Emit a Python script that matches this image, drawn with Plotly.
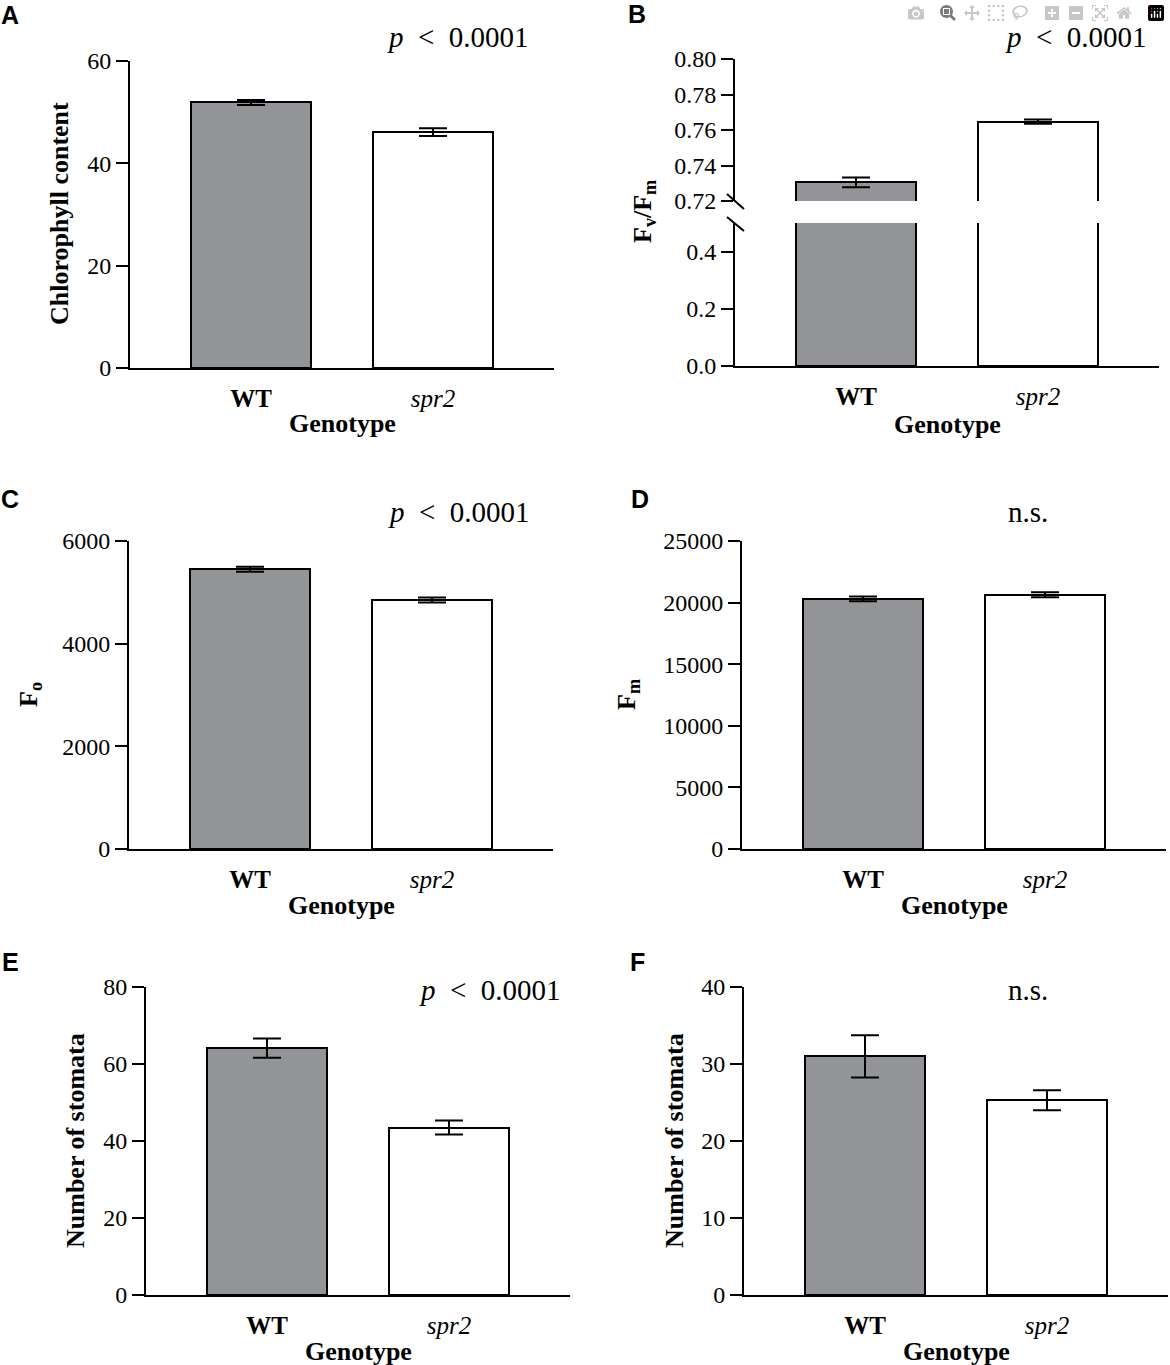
import plotly.graph_objects as go

# --- data ---
categories = ["WT", "spr2"]
tick_text = ["<b>WT</b>", "<i>spr2</i>"]

chl_mean = [51.9, 46.1]
chl_sem = [0.5, 0.75]

fvfm_mean = [0.7305, 0.7647]
fvfm_sem = [0.0027, 0.0012]

f0_mean = [5450, 4850]
f0_sem = [50, 50]

fm_mean = [20300, 20640]
fm_sem = [200, 200]

stom_e_mean = [64.1, 43.5]
stom_e_sem = [2.5, 1.8]

stom_f_mean = [31.0, 25.3]
stom_f_sem = [2.75, 1.3]

W, H = 1170, 1365
GRAY = "#929497"
SERIF = "Liberation Serif"
SANS = "Liberation Sans"
XLEN = 424


def px(x):
    return x / W


def py(y):
    return 1 - y / H


fig = go.Figure()
annotations = []
shapes = []


def bar_trace(means, sems, n, errors=True):
    sfx = "" if n == 1 else str(n)
    return go.Bar(
        x=categories, y=means, width=0.66,
        marker=dict(color=[GRAY, "white"], line=dict(color="black", width=2)),
        error_y=dict(type="data", array=sems, visible=errors, color="black",
                     thickness=2, width=14),
        xaxis="x" + sfx, yaxis="y" + sfx, hoverinfo="y",
    )


def x_axis(left, show=True, anchor="y"):
    return dict(
        domain=[px(left), px(left + XLEN)], range=[-0.665, 1.665],
        anchor=anchor, visible=show, showline=True, linecolor="black",
        linewidth=2, ticks="", tickvals=categories, ticktext=tick_text,
        ticklabelstandoff=7, showgrid=False, zeroline=False, automargin=False,
        tickfont=dict(family=SERIF, size=25, color="black"),
    )


def y_axis(top, bottom, rng, tickvals, anchor, fmt="d"):
    return dict(
        domain=[py(bottom), py(top)], range=rng, anchor=anchor,
        showline=True, linecolor="black", linewidth=2, ticks="outside",
        ticklen=12, tickwidth=2, tickcolor="black", tickvals=tickvals,
        tickformat=fmt, showgrid=False, zeroline=False, automargin=False,
        tickfont=dict(family=SERIF, size=24, color="black"),
    )


def text(x, y, s, size, family=SERIF, angle=0):
    annotations.append(dict(
        x=px(x), y=py(y), xref="paper", yref="paper", text=s, showarrow=False,
        textangle=angle, xanchor="center", yanchor="middle",
        font=dict(family=family, size=size, color="black"),
    ))


P_TXT = "<i>p</i>\u2002&lt;\u20020.0001"

# A: chlorophyll
fig.add_trace(bar_trace(chl_mean, chl_sem, 1))
fig.layout.xaxis = x_axis(130, anchor="y")
fig.layout.yaxis = y_axis(61, 368, [0, 60], [0, 20, 40, 60], "x")
text(10, 15, "<b>A</b>", 25, SANS)
text(458, 37, P_TXT, 29)
text(59, 214, "<b>Chlorophyll content</b>", 26, angle=-90)
text(130 + XLEN / 2, 423, "<b>Genotype</b>", 26)

# B: Fv/Fm with broken axis (lower x2/y2, upper x3/y3)
fig.add_trace(bar_trace(fvfm_mean, fvfm_sem, 2, errors=False))
fig.add_trace(bar_trace(fvfm_mean, fvfm_sem, 3))
fig.layout.xaxis2 = x_axis(735, anchor="y2")
fig.layout.yaxis2 = y_axis(223, 366, [0, 0.5], [0, 0.2, 0.4], "x2", ".1f")
fig.layout.xaxis3 = x_axis(735, show=False, anchor="y3")
fig.layout.yaxis3 = y_axis(59, 201, [0.72, 0.80],
                           [0.72, 0.74, 0.76, 0.78, 0.80], "x3", ".2f")
for y0, y1 in [(194, 209), (217, 231)]:
    shapes.append(dict(type="line", xref="paper", yref="paper",
                       x0=px(727), y0=py(y0), x1=px(744), y1=py(y1),
                       line=dict(color="black", width=2)))
text(637, 14, "<b>B</b>", 25, SANS)
text(1076, 37, P_TXT, 29)
text(644, 212, "<b>F<sub>v</sub>/F<sub>m</sub></b>", 26, angle=-90)
text(735 + XLEN / 2, 424, "<b>Genotype</b>", 26)

# C: F0
fig.add_trace(bar_trace(f0_mean, f0_sem, 4))
fig.layout.xaxis4 = x_axis(129, anchor="y4")
fig.layout.yaxis4 = y_axis(541, 849, [0, 6000], [0, 2000, 4000, 6000], "x4")
text(10, 499, "<b>C</b>", 25, SANS)
text(459, 512, P_TXT, 29)
text(30, 695, "<b>F<sub>o</sub></b>", 26, angle=-90)
text(129 + XLEN / 2, 905, "<b>Genotype</b>", 26)

# D: Fm
fig.add_trace(bar_trace(fm_mean, fm_sem, 5))
fig.layout.xaxis5 = x_axis(742, anchor="y5")
fig.layout.yaxis5 = y_axis(541, 849, [0, 25000],
                           [0, 5000, 10000, 15000, 20000, 25000], "x5")
text(640, 499, "<b>D</b>", 25, SANS)
text(1028, 512, "n.s.", 29)
text(628, 695, "<b>F<sub>m</sub></b>", 26, angle=-90)
text(742 + XLEN / 2, 905, "<b>Genotype</b>", 26)

# E: stomata
fig.add_trace(bar_trace(stom_e_mean, stom_e_sem, 6))
fig.layout.xaxis6 = x_axis(146, anchor="y6")
fig.layout.yaxis6 = y_axis(987, 1295, [0, 80], [0, 20, 40, 60, 80], "x6")
text(10, 962, "<b>E</b>", 25, SANS)
text(490, 990, P_TXT, 29)
text(75, 1141, "<b>Number of stomata</b>", 26, angle=-90)
text(146 + XLEN / 2, 1351, "<b>Genotype</b>", 26)

# F: stomata
fig.add_trace(bar_trace(stom_f_mean, stom_f_sem, 7))
fig.layout.xaxis7 = x_axis(744, anchor="y7")
fig.layout.yaxis7 = y_axis(987, 1295, [0, 40], [0, 10, 20, 30, 40], "x7")
text(638, 962, "<b>F</b>", 25, SANS)
text(1028, 990, "n.s.", 29)
text(674, 1141, "<b>Number of stomata</b>", 26, angle=-90)
text(744 + XLEN / 2, 1351, "<b>Genotype</b>", 26)

fig.update_layout(
    width=W, height=H, margin=dict(l=0, r=0, t=0, b=0, pad=0),
    font=dict(family=SERIF, color="black"),
    plot_bgcolor="white", paper_bgcolor="white", showlegend=False,
    annotations=annotations, shapes=shapes, bargap=0,
)
fig.update_yaxes(tickfont=dict(family=SERIF, size=24, color="black"))

fig.write_html("out.html", post_script="document.body.style.margin='0';")
